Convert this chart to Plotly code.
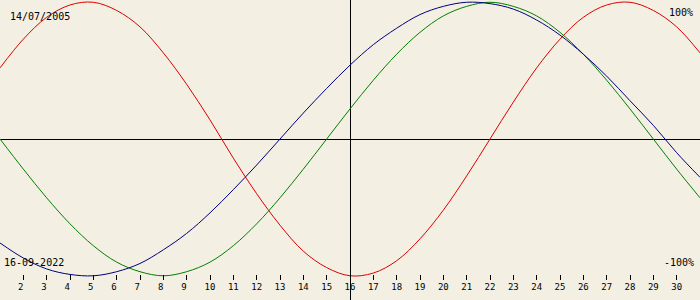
import plotly.graph_objects as go

days = list(range(1, 32))
physical = [52, 73, 89, 98, 100, 94, 82, 63, 40, 14, -14, -40, -63, -82, -94, -100,
            -98, -89, -73, -52, -27, 0, 27, 52, 73, 89, 98, 100, 94, 82, 63]
emotional = [0, -22, -43, -62, -78, -90, -97, -100, -97, -90, -78, -62, -43, -22, 0, 22,
             43, 62, 78, 90, 97, 100, 97, 90, 78, 62, 43, 22, 0, -22, -43]
intellectual = [-76, -87, -95, -99, -100, -97, -91, -81, -69, -54, -37, -19, 0, 19, 37, 54,
                69, 81, 91, 97, 100, 99, 95, 87, 76, 62, 46, 28, 10, -10, -28]
tick_days = list(range(2, 31))
tick_labels = [(str(d) + "\u00a0") if d < 10 else str(d) for d in tick_days]
birth_date = "14/07/2005"
current_date = "16-09-2022"
current_day = 16

BG = "#f3efe3"
FONT = "DejaVu Sans Mono"

fig = go.Figure()
for vals, col in [(physical, "#dd0000"), (emotional, "#008000"), (intellectual, "#000080")]:
    fig.add_trace(go.Scatter(x=days, y=vals, mode="lines",
                             line=dict(color=col, width=1, shape="spline", smoothing=1),
                             hoverinfo="skip", showlegend=False))

fig.update_layout(
    width=700, height=300,
    margin=dict(l=0, r=0, t=0, b=0),
    paper_bgcolor=BG, plot_bgcolor=BG,
    showlegend=False,
    xaxis=dict(range=[1, 31], tickvals=tick_days, ticktext=tick_labels,
               ticks="inside", ticklen=5, tickcolor="black", tickwidth=1,
               showgrid=False, zeroline=False, showline=False,
               anchor="free", position=(300 - 279.5) / 300,
               tickfont=dict(family=FONT, size=9, color="black"),
               fixedrange=True),
    xaxis2=dict(range=[1, 31], overlaying="x", tickvals=[current_day],
                showticklabels=False, ticks="", showgrid=True, gridcolor="black",
                gridwidth=1, zeroline=False, showline=False, fixedrange=True,
                layer="above traces"),
    yaxis=dict(range=[-117.7, 101.65], showticklabels=False, ticks="",
               showgrid=False, zeroline=True, zerolinecolor="black", zerolinewidth=1,
               showline=False, fixedrange=True),
    annotations=[
        dict(text=birth_date, xref="paper", yref="paper", x=8 / 700, y=1 - 17 / 300,
             xanchor="left", yanchor="middle", showarrow=False,
             font=dict(family=FONT, size=10, color="black")),
        dict(text=current_date, xref="paper", yref="paper", x=2 / 700, y=1 - 262 / 300,
             xanchor="left", yanchor="middle", showarrow=False,
             font=dict(family=FONT, size=10, color="black")),
        dict(text="100%", xref="paper", yref="paper", x=695 / 700, y=1 - 12 / 300,
             xanchor="right", yanchor="middle", showarrow=False,
             font=dict(family=FONT, size=10, color="black")),
        dict(text="-100%", xref="paper", yref="paper", x=696 / 700, y=1 - 262 / 300,
             xanchor="right", yanchor="middle", showarrow=False,
             font=dict(family=FONT, size=10, color="black")),
    ],
)
# invisible trace to activate the overlaying axis that carries the current-day line
fig.add_trace(go.Scatter(x=[current_day], y=[0], xaxis="x2", mode="markers",
                         marker=dict(opacity=0), hoverinfo="skip", showlegend=False))

fig.write_html("out.html", config={"displayModeBar": False})
